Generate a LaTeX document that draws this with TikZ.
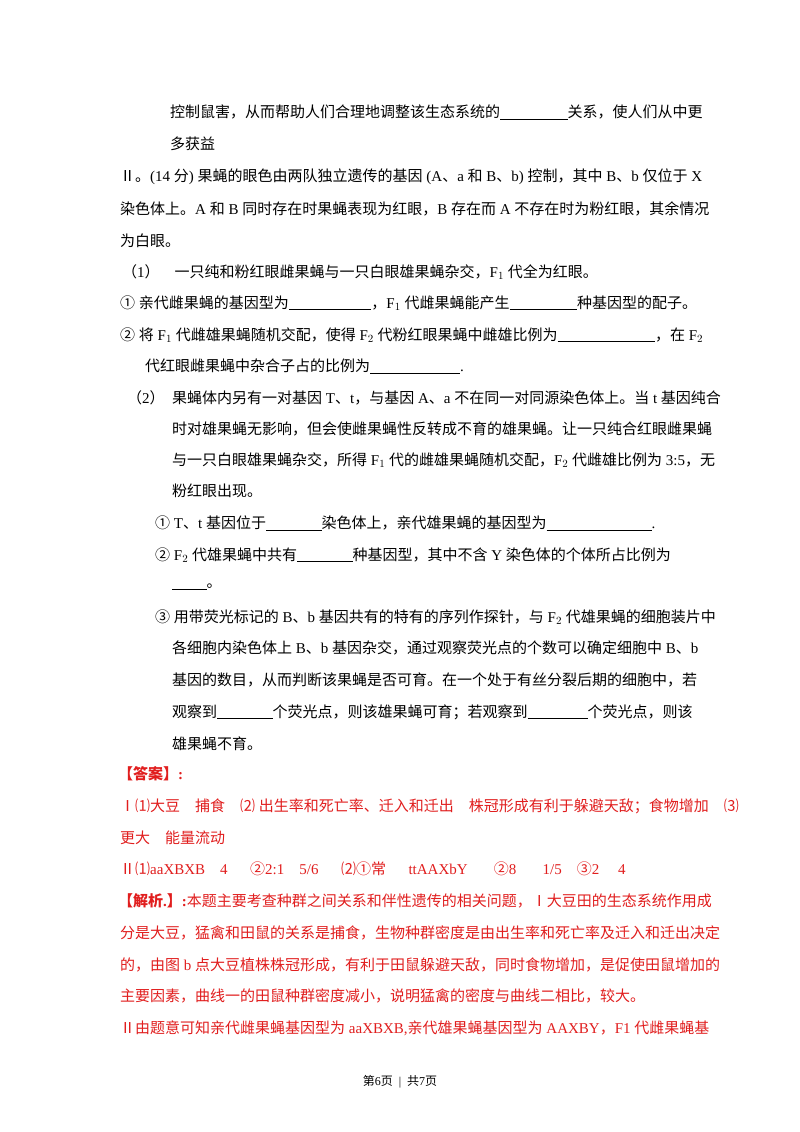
\documentclass[tikz,border=0pt]{standalone}
\usepackage{fontspec}
\setmainfont{Liberation Serif}
\newfontfamily\cjk{Noto Sans CJK SC}
\newfontfamily\lat{Liberation Serif}
\XeTeXinterchartokenstate=1
\newXeTeXintercharclass\cjkclass
\newcount\cc
\def\setrange#1#2{\cc=#1 \loop\XeTeXcharclass\cc=\cjkclass\advance\cc by 1 \ifnum\cc<#2\repeat}
\setrange{"4E00}{"9FFF}
\setrange{"3000}{"3040}
\setrange{"FF00}{"FFF0}
\setrange{"2460}{"2500}
\setrange{"2160}{"2170}
\XeTeXinterchartoks 0 \cjkclass = {\cjk}
\XeTeXinterchartoks 4095 \cjkclass = {\cjk}
\XeTeXinterchartoks \cjkclass 0 = {\lat}
\XeTeXinterchartoks \cjkclass 4095 = {\lat}
\definecolor{ans}{RGB}{225,30,30}
\newcommand\blank[1]{\underline{\hspace{#1}}}
\tikzset{ln/.style={anchor=west,inner sep=0pt,font=\fontsize{15}{17}\selectfont}}
\begin{document}
\begin{tikzpicture}[x=1pt,y=-1pt]
\useasboundingbox (0,0) rectangle (800,1132);
\fill[white] (0,0) rectangle (800,1132);
\node[ln] (l1) at (170,112) {控制鼠害，从而帮助人们合理地调整该生态系统的\blank{4.5em}关系，使人们从中更};
\node[ln] (l2) at (170,144) {多获益};
\node[ln] (l3) at (120,177) {Ⅱ。(14 分) 果蝇的眼色由两队独立遗传的基因 (A、a 和 B、b) 控制，其中 B、b 仅位于 X};
\node[ln] (l4) at (120,209) {染色体上。A 和 B 同时存在时果蝇表现为红眼，B 存在而 A 不存在时为粉红眼，其余情况};
\node[ln] (l5) at (120,241) {为白眼。};
\node[ln] (l6) at (122,272) {（1）\quad 一只纯和粉红眼雌果蝇与一只白眼雄果蝇杂交，F$_1$ 代全为红眼。};
\node[ln] (l7) at (120,303) {①\ 亲代雌果蝇的基因型为\blank{5.5em}，F$_1$ 代雌果蝇能产生\blank{4.5em}种基因型的配子。};
\node[ln] (l8) at (120,335) {②\ 将 F$_1$ 代雌雄果蝇随机交配，使得 F$_2$ 代粉红眼果蝇中雌雄比例为\blank{6.5em}，在 F$_2$};
\node[ln] (l9) at (145,366) {代红眼雌果蝇中杂合子占的比例为\blank{6em}.};
\node[ln] (l10) at (127,398) {（2）};
\node[ln] (l10b) at (172,398) {果蝇体内另有一对基因 T、t，与基因 A、a 不在同一对同源染色体上。当 t 基因纯合};
\node[ln] (l11) at (172,429) {时对雄果蝇无影响，但会使雌果蝇性反转成不育的雄果蝇。让一只纯合红眼雌果蝇};
\node[ln] (l12) at (172,460) {与一只白眼雄果蝇杂交，所得 F$_1$ 代的雌雄果蝇随机交配，F$_2$ 代雌雄比例为 3:5，无};
\node[ln] (l13) at (172,491) {粉红眼出现。};
\node[ln] (l14) at (155,523) {①\ T、t 基因位于\blank{3.7em}染色体上，亲代雄果蝇的基因型为\blank{7em}.};
\node[ln] (l15) at (155,555) {②\ F$_2$ 代雄果蝇中共有\blank{3.7em}种基因型，其中不含 Y 染色体的个体所占比例为};
\node[ln] (l16) at (172,587) {\blank{2.3em}。};
\node[ln] (l17) at (155,617) {③\ 用带荧光标记的 B、b 基因共有的特有的序列作探针，与 F$_2$ 代雄果蝇的细胞装片中};
\node[ln] (l18) at (172,648) {各细胞内染色体上 B、b 基因杂交，通过观察荧光点的个数可以确定细胞中 B、b};
\node[ln] (l19) at (172,680) {基因的数目，从而判断该果蝇是否可育。在一个处于有丝分裂后期的细胞中，若};
\node[ln] (l20) at (172,712) {观察到\blank{3.7em}个荧光点，则该雄果蝇可育；若观察到\blank{4em}个荧光点，则该};
\node[ln] (l21) at (172,744) {雄果蝇不育。};
\begin{scope}[every node/.append style={text=ans}]
\node[ln] (a1) at (118,774) {\textbf{【答案】:}};
\node[ln] (a2) at (120,806) {Ⅰ⑴大豆\quad 捕食\quad ⑵ 出生率和死亡率、迁入和迁出\quad 株冠形成有利于躲避天敌；食物增加\quad ⑶};
\node[ln] (a3) at (120,838) {更大\quad 能量流动};
\node[ln] (a4) at (120,869) {Ⅱ⑴aaXBXB\quad 4\quad\ \ ②2:1\quad 5/6\quad\ \ ⑵①常\quad\ \ ttAAXbY\quad\ \ \ ②8\quad\ \ \ 1/5\quad ③2\quad\ 4};
\node[ln] (a5) at (118,901) {\textbf{【解析.】:}本题主要考查种群之间关系和伴性遗传的相关问题，Ⅰ大豆田的生态系统作用成};
\node[ln] (a6) at (120,933) {分是大豆，猛禽和田鼠的关系是捕食，生物种群密度是由出生率和死亡率及迁入和迁出决定};
\node[ln] (a7) at (120,965) {的，由图 b 点大豆植株株冠形成，有利于田鼠躲避天敌，同时食物增加，是促使田鼠增加的};
\node[ln] (a8) at (120,996) {主要因素，曲线一的田鼠种群密度减小，说明猛禽的密度与曲线二相比，较大。};
\node[ln] (a9) at (120,1028) {Ⅱ由题意可知亲代雌果蝇基因型为 aaXBXB,亲代雄果蝇基因型为 AAXBY，F1 代雌果蝇基};
\end{scope}
\node[inner sep=0pt,font=\fontsize{12}{14}\selectfont] (pg) at (400,1082) {第6页\ \ |\ \ 共7页};
\end{tikzpicture}
\end{document}
